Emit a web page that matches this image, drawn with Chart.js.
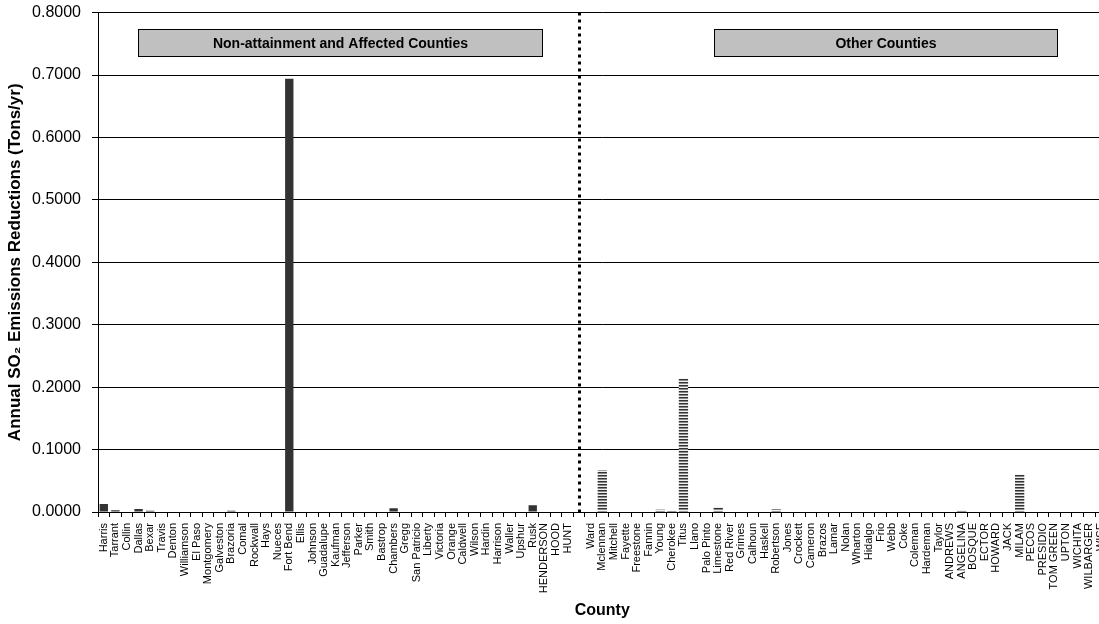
<!DOCTYPE html>
<html>
<head>
<meta charset="utf-8">
<script src="https://cdn.jsdelivr.net/npm/chart.js@4/dist/chart.umd.min.js"></script>
<style>
  html, body { margin: 0; padding: 0; background: #fff; overflow: hidden; }
  #wrap { width: 1120px; height: 632px; position: relative; top: -8px; }
</style>
</head>
<body>
<div id="wrap"><canvas id="chart"></canvas></div>
<script>
const nonAttainCounties = ["Harris", "Tarrant", "Collin", "Dallas", "Bexar", "Travis", "Denton", "Williamson", "El Paso", "Montgomery", "Galveston", "Brazoria", "Comal", "Rockwall", "Hays", "Nueces", "Fort Bend", "Ellis", "Johnson", "Guadalupe", "Kaufman", "Jefferson", "Parker", "Smith", "Bastrop", "Chambers", "Gregg", "San Patricio", "Liberty", "Victoria", "Orange", "Caldwell", "Wilson", "Hardin", "Harrison", "Waller", "Upshur", "Rusk", "HENDERSON", "HOOD", "HUNT"];
const nonAttainValues = [0.013, 0.003, 0.001, 0.005, 0.002, 0, 0, 0, 0, 0, 0.001, 0.002, 0, 0, 0, 0, 0.694, 0, 0, 0, 0, 0, 0, 0, 0, 0.006, 0, 0, 0, 0, 0, 0, 0, 0, 0, 0, 0, 0.011, 0, 0.001, 0];
const otherCounties = ["Ward", "Mclennan", "Mitchell", "Fayette", "Freestone", "Fannin", "Young", "Cherokee", "Titus", "Llano", "Palo Pinto", "Limestone", "Red River", "Grimes", "Calhoun", "Haskell", "Robertson", "Jones", "Crockett", "Cameron", "Brazos", "Lamar", "Nolan", "Wharton", "Hidalgo", "Frio", "Webb", "Coke", "Coleman", "Hardeman", "Taylor", "ANDREWS", "ANGELINA", "BOSQUE", "ECTOR", "HOWARD", "JACK", "MILAM", "PECOS", "PRESIDIO", "TOM GREEN", "UPTON", "WICHITA", "WILBARGER", "WISE"];
const otherValues = [0.001, 0.067, 0, 0, 0, 0, 0.004, 0.002, 0.214, 0, 0, 0.008, 0, 0, 0, 0, 0.005, 0, 0, 0, 0, 0, 0, 0, 0, 0, 0, 0, 0, 0, 0, 0, 0.003, 0, 0, 0, 0, 0.060, 0, 0, 0, 0, 0, 0, 0];
const yTicks = [0, 0.1, 0.2, 0.3, 0.4, 0.5, 0.6, 0.7, 0.8];

const labels = [...nonAttainCounties, "", ...otherCounties];
const gap = nonAttainCounties.length; // empty slot holding the divider
const leftData = [...nonAttainValues, ...new Array(otherCounties.length + 1).fill(null)];
const rightData = [...new Array(gap + 1).fill(null), ...otherValues];

// striped fill for "other" counties
const pc = document.createElement("canvas");
pc.width = 4; pc.height = 3;
const pctx = pc.getContext("2d");
["#333333", "#8a8a8a", "#efefef"].forEach((c, i) => {
  pctx.fillStyle = c;
  pctx.fillRect(0, i, 4, 1);
});
const stripes = pctx.createPattern(pc, "repeat");

const FONT = "'Liberation Sans', Arial, sans-serif";

const boxes = [
  { text: "Non-attainment and Affected Counties", from: 2.94, to: 37.8, top: 0.773, bottom: 0.730 },
  { text: "Other Counties", from: 52.6, to: 82.2, top: 0.773, bottom: 0.730 },
];

const overlay = {
  id: "overlay",
  afterDatasetsDraw(chart) {
    const ctx = chart.ctx;
    const x = chart.scales.x, y = chart.scales.y;
    // dotted divider
    const dx = Math.round(x.getPixelForValue(gap)) + 0.5;
    ctx.save();
    ctx.strokeStyle = "#000";
    ctx.lineWidth = 3;
    ctx.setLineDash([3, 4]);
    ctx.beginPath();
    ctx.moveTo(dx, chart.chartArea.top);
    ctx.lineTo(dx, chart.chartArea.bottom);
    ctx.stroke();
    ctx.restore();
    // group captions
    ctx.save();
    boxes.forEach(b => {
      const l = Math.round(x.getPixelForValue(b.from)) + 0.5;
      const r = Math.round(x.getPixelForValue(b.to)) + 0.5;
      const t = Math.round(y.getPixelForValue(b.top)) + 0.5;
      const bt = Math.round(y.getPixelForValue(b.bottom)) + 0.5;
      ctx.fillStyle = "#c0c0c0";
      ctx.fillRect(l, t, r - l, bt - t);
      ctx.strokeStyle = "#000";
      ctx.lineWidth = 1;
      ctx.strokeRect(l, t, r - l, bt - t);
      ctx.fillStyle = "#000";
      ctx.font = "bold 14px " + FONT;
      ctx.textAlign = "center";
      ctx.textBaseline = "middle";
      ctx.fillText(b.text, (l + r) / 2, (t + bt) / 2 + 1);
    });
    ctx.restore();
  }
};

new Chart(document.getElementById("chart"), {
  type: "bar",
  data: {
    labels: labels,
    datasets: [
      { label: "Non-attainment", data: leftData, backgroundColor: "#333333", grouped: false, barPercentage: 0.72, categoryPercentage: 1 },
      { label: "Other", data: rightData, backgroundColor: stripes, grouped: false, barPercentage: 0.8, categoryPercentage: 1 },
    ],
  },
  options: {
    responsive: true,
    maintainAspectRatio: false,
    animation: false,
    layout: { padding: { top: 2, left: 0, right: 0, bottom: 4 } },
    plugins: { legend: { display: false }, tooltip: { enabled: false } },
    scales: {
      x: {
        grid: { display: true, drawOnChartArea: false, color: "#000", tickLength: 5, offset: true },
        border: { color: "#000", width: 1 },
        ticks: {
          autoSkip: false, minRotation: 90, maxRotation: 90, padding: 6,
          color: "#000", font: { family: FONT, size: 11 },
        },
        title: { display: true, text: "County", color: "#000", padding: { top: 2, bottom: 0 },
          font: { family: FONT, size: 16, weight: "bold" } },
        afterFit(s) { s.height = 108; },
      },
      y: {
        min: 0, max: 0.8,
        afterBuildTicks(s) { s.ticks = yTicks.map(v => ({ value: v })); },
        grid: { color: "#000", tickLength: 6 },
        border: { color: "#000", width: 1 },
        ticks: {
          color: "#000", padding: 11,
          font: { family: FONT, size: 16 },
          callback: v => Number(v).toFixed(4),
        },
        title: { display: true, text: "Annual SO₂ Emissions Reductions (Tons/yr)", color: "#000", padding: { top: 5, bottom: 2 },
          font: { family: FONT, size: 17, weight: "bold" } },
        afterFit(s) { s.width = 98; },
      },
    },
  },
  plugins: [overlay],
});
</script>
</body>
</html>
